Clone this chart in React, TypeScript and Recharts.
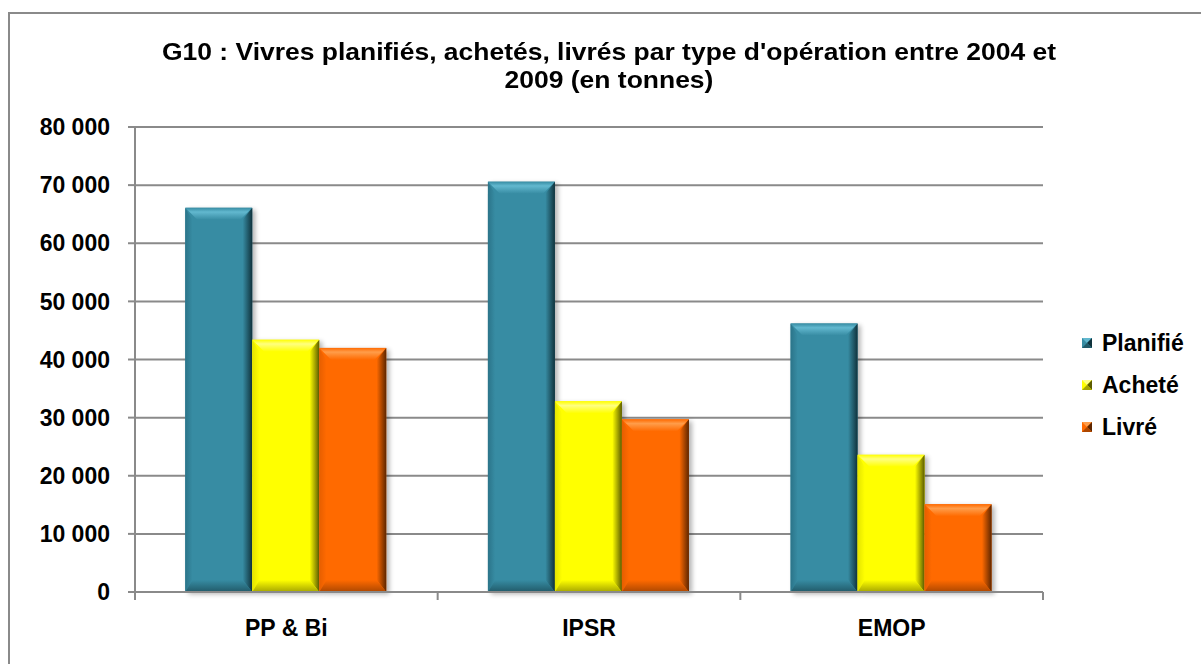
import { BarChart, Bar, XAxis, YAxis, CartesianGrid } from "recharts"

const categories = ["PP & Bi", "IPSR", "EMOP"]
const planifie = [66100, 70600, 46200]
const achete = [43400, 32800, 23600]
const livre = [42000, 29700, 15100]
const yTicks = [0, 10000, 20000, 30000, 40000, 50000, 60000, 70000, 80000]

const FONT = '"Liberation Sans", Arial, sans-serif'
const AXIS_GREY = "#8a8a8a"

type Tone = { main: string; light: string; left: string; right: string; bottom: string }

const series: { key: string; label: string; tone: Tone }[] = [
  {
    key: "planifie",
    label: "Planifié",
    tone: { main: "#378ca3", light: "#62b8cf", left: "#2b7489", right: "#10323c", bottom: "#215a69" },
  },
  {
    key: "achete",
    label: "Acheté",
    tone: { main: "#ffff00", light: "#ffff80", left: "#e4e400", right: "#5c5c00", bottom: "#a6a600" },
  },
  {
    key: "livre",
    label: "Livré",
    tone: { main: "#ff6a00", light: "#ff9d4a", left: "#e65e00", right: "#5e2600", bottom: "#ad4700" },
  },
]

const data = categories.map((name, i) => ({
  name,
  planifie: planifie[i],
  achete: achete[i],
  livre: livre[i],
}))

const formatThousands = (v: number) => String(v).replace(/\B(?=(\d{3})+(?!\d))/g, " ")

// bevelled bar: flat face plus four sloped edges and a soft shadow
function BevelBar(props: any) {
  const { x, y, width: w, height: h, idx, tone } = props
  if (!h || h <= 0) return null
  const b = Math.min(12, w / 2, h / 2)
  const x2 = x + w
  const y2 = y + h
  return (
    <g>
      <rect x={x + 3} y={y + 2} width={w} height={h} fill="#000" opacity={0.3} filter="url(#barShadow)" />
      <rect x={x} y={y} width={w} height={h} fill={tone.main} />
      <polygon
        points={`${x},${y} ${x2},${y} ${x2 - b},${y + b} ${x + b},${y + b}`}
        fill={`url(#top-${idx})`}
      />
      <polygon
        points={`${x},${y} ${x + b * 0.6},${y + b} ${x + b * 0.6},${y2 - b} ${x},${y2}`}
        fill={`url(#left-${idx})`}
      />
      <polygon
        points={`${x2},${y} ${x2},${y2} ${x2 - b * 0.8},${y2 - b} ${x2 - b * 0.8},${y + b}`}
        fill={`url(#right-${idx})`}
      />
      <polygon
        points={`${x},${y2} ${x2},${y2} ${x2 - b * 0.8},${y2 - b} ${x + b * 0.6},${y2 - b}`}
        fill={`url(#bottom-${idx})`}
      />
    </g>
  )
}

function CategoryTick(props: any) {
  const { x, y, payload, index } = props
  const half = payload && payload.offset ? payload.offset : 908 / 6
  const last = index === categories.length - 1
  return (
    <g>
      <line x1={x - half} x2={x - half} y1={y} y2={y + 8} stroke={AXIS_GREY} strokeWidth={2} />
      {last && <line x1={x + half} x2={x + half} y1={y} y2={y + 8} stroke={AXIS_GREY} strokeWidth={2} />}
      <text
        x={x}
        y={y + 36}
        textAnchor="middle"
        dominantBaseline="central"
        fontFamily={FONT}
        fontSize={23}
        fontWeight={700}
        fill="#000"
      >
        {payload.value}
      </text>
    </g>
  )
}

function LegendIcon({ tone }: { tone: Tone }) {
  return (
    <svg width={10} height={10} style={{ display: "block" }}>
      <rect x={0} y={0} width={10} height={10} fill={tone.main} />
      <polygon points="0,0 10,0 5,5" fill={tone.light} />
      <polygon points="10,0 10,10 5,5" fill={tone.right} />
      <polygon points="0,10 10,10 5,5" fill={tone.bottom} />
    </svg>
  )
}

export default function App() {
  return (
    <div style={{ position: "absolute", left: 0, top: 0, width: 1201, height: 664, overflow: "hidden", background: "#fff" }}>
      <div
        style={{
          position: "absolute",
          left: 8,
          top: 12,
          width: 1210,
          height: 670,
          border: `2px solid ${AXIS_GREY}`,
          background: "#fff",
        }}
      >
        <div
          style={{
            position: "absolute",
            left: -1,
            top: 24,
            width: 1200,
            textAlign: "center",
            fontFamily: FONT,
            fontSize: 24.5,
            lineHeight: "28px",
            fontWeight: 700,
            color: "#000",
            transform: "scaleX(1.08)",
            transformOrigin: "center top",
          }}
        >
          G10 : Vivres planifiés, achetés, livrés par type d'opération entre 2004 et
          <br />
          2009 (en tonnes)
        </div>

        <BarChart
          width={1190}
          height={650}
          data={data}
          margin={{ top: 113, right: 157, bottom: 0, left: 0 }}
          barCategoryGap="16.6%"
          barGap={0}
        >
          <defs>
            <filter id="barShadow" x="-20%" y="-20%" width="140%" height="140%">
              <feGaussianBlur stdDeviation={2.5} />
            </filter>
            {series.map((s, i) => (
              <g key={s.key}>
                <linearGradient id={`top-${i}`} x1="0" y1="0" x2="0" y2="1">
                  <stop offset="0%" stopColor={s.tone.main} />
                  <stop offset="35%" stopColor={s.tone.light} />
                  <stop offset="100%" stopColor={s.tone.main} />
                </linearGradient>
                <linearGradient id={`left-${i}`} x1="0" y1="0" x2="1" y2="0">
                  <stop offset="0%" stopColor={s.tone.left} />
                  <stop offset="100%" stopColor={s.tone.main} />
                </linearGradient>
                <linearGradient id={`right-${i}`} x1="0" y1="0" x2="1" y2="0">
                  <stop offset="0%" stopColor={s.tone.main} />
                  <stop offset="100%" stopColor={s.tone.right} />
                </linearGradient>
                <linearGradient id={`bottom-${i}`} x1="0" y1="0" x2="0" y2="1">
                  <stop offset="0%" stopColor={s.tone.main} />
                  <stop offset="100%" stopColor={s.tone.bottom} />
                </linearGradient>
              </g>
            ))}
          </defs>
          <CartesianGrid vertical={false} stroke={AXIS_GREY} strokeWidth={2} />
          <XAxis
            dataKey="name"
            height={72}
            interval={0}
            tickLine={false}
            tickSize={0}
            tickMargin={0}
            axisLine={{ stroke: AXIS_GREY, strokeWidth: 2 }}
            tick={<CategoryTick />}
          />
          <YAxis
            width={125}
            domain={[0, 80000]}
            ticks={yTicks}
            interval={0}
            tickFormatter={formatThousands}
            tickSize={7}
            tickMargin={18}
            axisLine={{ stroke: AXIS_GREY, strokeWidth: 2 }}
            tickLine={{ stroke: AXIS_GREY, strokeWidth: 2 }}
            tick={{ fill: "#000", fontSize: 23, fontWeight: 700, fontFamily: FONT }}
          />
          {series.map((s, i) => (
            <Bar
              key={s.key}
              dataKey={s.key}
              name={s.label}
              fill={s.tone.main}
              isAnimationActive={false}
              shape={(p: any) => <BevelBar {...p} idx={i} tone={s.tone} />}
            />
          ))}
        </BarChart>

        <div style={{ position: "absolute", left: 1072, top: 308, fontFamily: FONT }}>
          {series.map((s) => (
            <div key={s.key} style={{ display: "flex", alignItems: "center", height: 42 }}>
              <LegendIcon tone={s.tone} />
              <span style={{ marginLeft: 10, fontSize: 23, fontWeight: 700, color: "#000" }}>{s.label}</span>
            </div>
          ))}
        </div>
      </div>
    </div>
  )
}
